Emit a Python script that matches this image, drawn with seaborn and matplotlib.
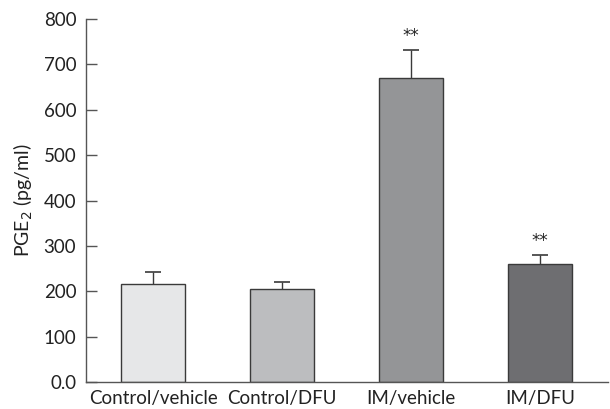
import matplotlib
matplotlib.use("Agg")
import matplotlib.pyplot as plt
import seaborn as sns
import numpy as np

categories = ["Control/vehicle", "Control/DFU", "IM/vehicle", "IM/DFU"]
values = [216, 204, 671, 261]
errors = [27, 17, 60, 19]
stars = ["", "", "**", "**"]
colors = ["#e6e7e8", "#bcbdbf", "#939598", "#6d6e71"]
yticks = [0, 100, 200, 300, 400, 500, 600, 700, 800]
yticklabels = ["0.0", "100", "200", "300", "400", "500", "600", "700", "800"]

sns.set_style("ticks")
plt.rcParams["font.family"] = ["Lato", "DejaVu Sans"]

fig = plt.figure(figsize=(6.1, 4.09), dpi=100)
ax = fig.add_axes([0.141, 0.066, 0.856, 0.8875])

sns.barplot(x=categories, y=values, hue=categories, palette=colors, legend=False,
            width=0.5, edgecolor="#3a3a3a", linewidth=1.0, ax=ax, errorbar=None)
xs = np.arange(len(categories))
eb = ax.errorbar(xs, values, yerr=[np.zeros(len(values)), errors], fmt="none",
                 ecolor="#3a3a3a", elinewidth=1.0, capsize=6, capthick=1.2)
caps = eb[1]
if len(caps) >= 2:
    caps[0].set_visible(False)
for x, v, e, s in zip(xs, values, errors, stars):
    if s:
        ax.text(x, v + e + 12, s, ha="center", va="bottom", fontsize=12,
                color="#222222", family="DejaVu Sans")

ax.set_ylim(0, 800)
ax.set_xlim(-0.52, 3.53)
ax.set_yticks(yticks)
ax.set_yticklabels(yticklabels)
ax.set_ylabel("PGE$_2$ (pg/ml)", fontsize=14, color="#222222", labelpad=6)
ax.set_xlabel("")
ax.tick_params(axis="y", direction="in", length=8, width=1, color="#555555",
               labelsize=13.5, labelcolor="#222222", pad=7)
ax.tick_params(axis="x", length=0, labelsize=13.5, labelcolor="#222222", pad=6)
for side in ["top", "right"]:
    ax.spines[side].set_visible(False)
for side in ["left", "bottom"]:
    ax.spines[side].set_color("#555555")
    ax.spines[side].set_linewidth(1.0)

fig.savefig("out.png", dpi=100)
